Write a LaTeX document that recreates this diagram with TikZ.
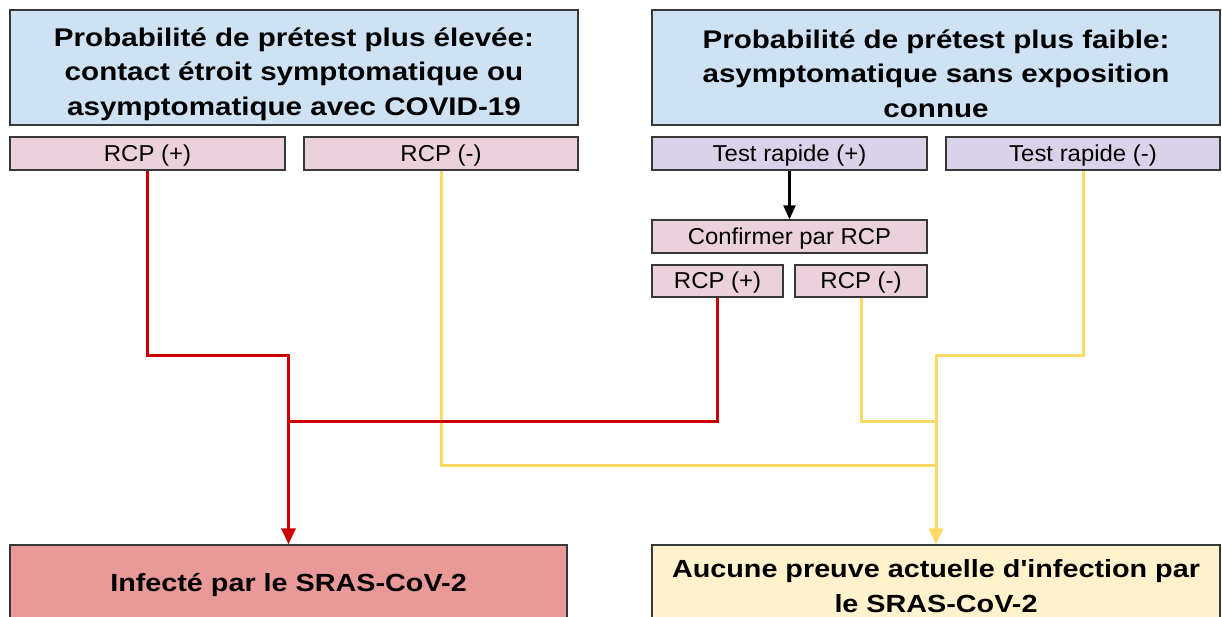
\documentclass[tikz,border=0pt]{standalone}
\usepackage{fontspec}
\setmainfont{Liberation Sans}[FakeStretch=1.04]
\newfontfamily\headfont{Liberation Sans}[FakeStretch=1.16]
\usetikzlibrary{arrows.meta}

\definecolor{hdrblue}{HTML}{CFE2F3}
\definecolor{pcrpink}{HTML}{EAD1DC}
\definecolor{rapidlilac}{HTML}{D9D2E9}
\definecolor{posred}{HTML}{EA9999}
\definecolor{negcream}{HTML}{FFF2CC}
\definecolor{wirered}{HTML}{CC0000}
\definecolor{wireyellow}{HTML}{FFD966}
\definecolor{boxline}{HTML}{383838}

\begin{document}
\begin{tikzpicture}[x=1pt,y=-1pt,
  box/.style={draw=boxline, line width=1.3pt, inner sep=0pt, minimum height=33pt},
  bigbox/.style={box, minimum height=115pt},
  headtext/.style={inner sep=0pt, align=center,
    font=\headfont\bfseries\fontsize{25.5}{34.5}\selectfont},
  outtext/.style={headtext, font=\headfont\bfseries\fontsize{24.8}{34.5}\selectfont},
  smalltext/.style={font=\fontsize{23}{27}\selectfont, text height=20.5pt, text depth=5pt},
  redwire/.style={draw=wirered, line width=3pt},
  yellowwire/.style={draw=wireyellow, line width=3pt},
  blackwire/.style={draw=black, line width=2.3pt},
  bigtip/.tip={Triangle[width=14pt,length=16pt]}
]
\clip (0,0) rectangle (1222,617);

% header boxes
\node[bigbox, fill=hdrblue, minimum width=568pt] (hiBox) at (294,67.5) {};
\node[headtext] (hiText) at (294,74)
  {Probabilité de prétest plus élevée:\\contact étroit symptomatique ou\\asymptomatique avec COVID-19};
\node[bigbox, fill=hdrblue, minimum width=568pt] (loBox) at (936,67.5) {};
\node[headtext] (loText) at (936,73.5)
  {Probabilité de prétest plus faible:\\asymptomatique sans exposition\\connue};

% first-level results
\node[box, smalltext, fill=pcrpink, minimum width=275pt] (rcpPos) at (147.5,153.5) {RCP (+)};
\node[box, smalltext, fill=pcrpink, minimum width=274pt] (rcpNeg) at (441,153.5) {RCP (-)};
\node[box, smalltext, fill=rapidlilac, minimum width=275pt] (trPos) at (789.5,153.5) {Test rapide (+)};
\node[box, smalltext, fill=rapidlilac, minimum width=274pt] (trNeg) at (1083,153.5) {Test rapide (-)};

% confirmation step
\node[box, smalltext, fill=pcrpink, minimum width=275pt] (confirm) at (789.5,236.5) {Confirmer par RCP};
\node[box, smalltext, fill=pcrpink, minimum width=131pt, minimum height=32pt] (rcp2Pos) at (717.5,281) {RCP (+)};
\node[box, smalltext, fill=pcrpink, minimum width=132pt, minimum height=32pt] (rcp2Neg) at (861,281) {RCP (-)};

% outcomes
\node[bigbox, fill=posred, minimum width=557pt] (infect) at (288.5,602.5) {};
\node[outtext] (infectText) at (288.5,584.5) {Infecté par le SRAS-CoV-2};
\node[bigbox, fill=negcream, minimum width=568pt] (aucune) at (936,602.5) {};
\node[outtext] (aucuneText) at (936,586) {Aucune preuve actuelle d'infection par\\le SRAS-CoV-2};

% junction points
\coordinate (redJoin) at (288.5,421);
\coordinate (yelJoinA) at (936,421);
\coordinate (yelJoinB) at (936,465);

% negative paths
\draw[yellowwire] (rcpNeg.south) |- (yelJoinB);
\draw[yellowwire] (rcp2Neg.south) |- (yelJoinA);
\draw[yellowwire, -bigtip] (trNeg.south) -- ++(0,185) -| (aucune.north);

% positive paths
\draw[redwire] (rcp2Pos.south) |- (redJoin);
\draw[redwire, -bigtip] (rcpPos.south) -- ++(0,185) -| (infect.north);

% rapid test confirmation
\draw[blackwire, -{Triangle[width=12pt,length=14pt]}] (trPos.south) -- (confirm.north);
\end{tikzpicture}
\end{document}
